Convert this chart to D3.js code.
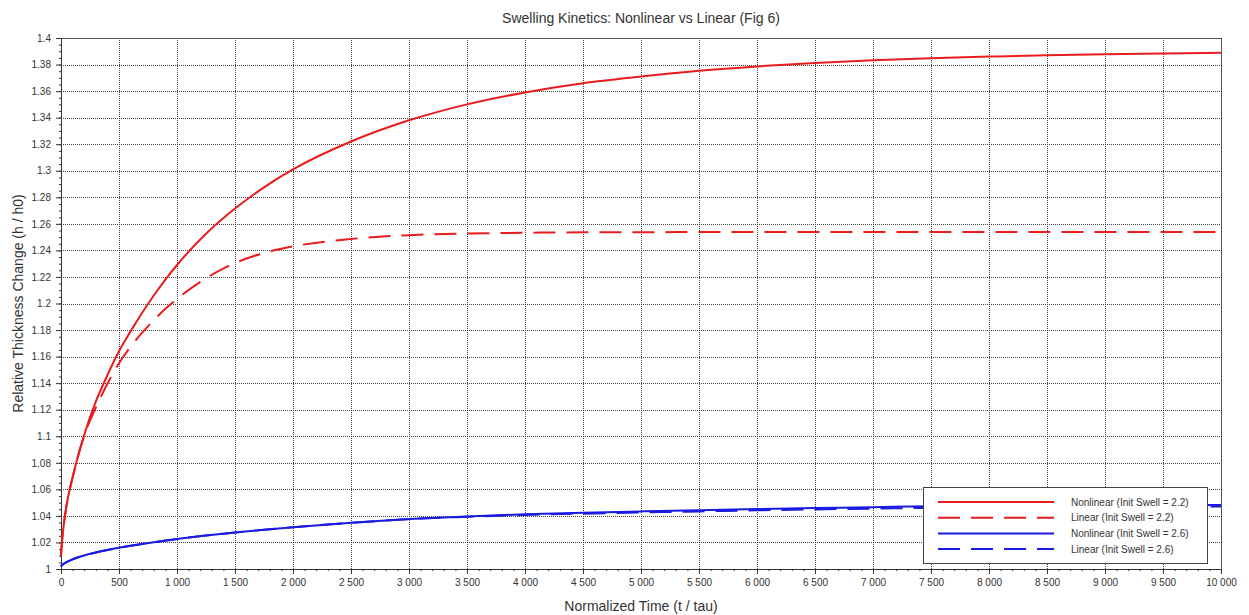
<!DOCTYPE html>
<html>
<head>
<meta charset="utf-8">
<script src="https://cdn.jsdelivr.net/npm/d3@7"></script>
<style>
  html, body { margin: 0; padding: 0; background: #fff; }
  svg { display: block; font-family: "Liberation Sans", Arial, sans-serif; }
</style>
</head>
<body>
<div id="chart"></div>
<script>
// time samples (t / tau) shared by all four curves
const times = [0, 10, 25, 50, 100, 150, 200, 300, 400, 500, 600, 700, 800, 900, 1000,
  1250, 1500, 1750, 2000, 2500, 3000, 3500, 4000, 4500, 5000, 5500, 6000, 6500,
  7000, 7500, 8000, 8500, 9000, 9500, 10000];

const nonlinear22 = [1.010, 1.022, 1.034, 1.049, 1.069, 1.086, 1.101, 1.126, 1.146, 1.164, 1.179, 1.193, 1.206, 1.218, 1.229,
  1.2525, 1.2715, 1.2875, 1.301, 1.322, 1.338, 1.350, 1.359, 1.366, 1.371, 1.3753, 1.3786, 1.3812,
  1.3832, 1.3848, 1.386, 1.387, 1.3877, 1.3883, 1.3888];

const linear22 = [1.010, 1.022, 1.034, 1.049, 1.069, 1.086, 1.1005, 1.1215, 1.1395, 1.155, 1.1675, 1.178, 1.1875, 1.196, 1.2035,
  1.219, 1.2305, 1.238, 1.243, 1.2486, 1.2515, 1.2527, 1.2533, 1.2536, 1.2537, 1.2538, 1.2538, 1.2538,
  1.2538, 1.2538, 1.2538, 1.2538, 1.2538, 1.2538, 1.2538];

const nonlinear26 = [1.0018, 1.003, 1.004, 1.0053, 1.0073, 1.0089, 1.0102, 1.0124, 1.0143, 1.016, 1.0175, 1.0189, 1.0202, 1.0214, 1.0226,
  1.0252, 1.0275, 1.0296, 1.0315, 1.0348, 1.0376, 1.0396, 1.0412, 1.0424, 1.0434, 1.0443, 1.0452, 1.0459,
  1.0466, 1.0472, 1.0476, 1.0479, 1.0481, 1.0482, 1.0483];

const linear26 = [1.0018, 1.003, 1.004, 1.0053, 1.0073, 1.0089, 1.0102, 1.0124, 1.0143, 1.016, 1.0175, 1.0189, 1.0202, 1.0214, 1.0226,
  1.0252, 1.0275, 1.0296, 1.0315, 1.0348, 1.0376, 1.0393, 1.0407, 1.0417, 1.0426, 1.0434, 1.0442, 1.0449,
  1.0455, 1.046, 1.0464, 1.0467, 1.0469, 1.047, 1.0471];

const seriesNames = ['Nonlinear (Init Swell = 2.2)', 'Linear (Init Swell = 2.2)',
  'Nonlinear (Init Swell = 2.6)', 'Linear (Init Swell = 2.6)'];

const xTicks = [0, 500, 1000, 1500, 2000, 2500, 3000, 3500, 4000, 4500, 5000,
  5500, 6000, 6500, 7000, 7500, 8000, 8500, 9000, 9500, 10000];
const yTicks = [1, 1.02, 1.04, 1.06, 1.08, 1.1, 1.12, 1.14, 1.16, 1.18, 1.2,
  1.22, 1.24, 1.26, 1.28, 1.3, 1.32, 1.34, 1.36, 1.38, 1.4];

const RED = '#e81c1c', BLUE = '#1a1ae0';
const series = [
  { name: seriesNames[0], values: nonlinear22, color: RED, dash: null },
  { name: seriesNames[1], values: linear22, color: RED, dash: '22,11' },
  { name: seriesNames[2], values: nonlinear26, color: BLUE, dash: null },
  { name: seriesNames[3], values: linear26, color: BLUE, dash: '22,11' },
];

const W = 1249, H = 615;
const m = { top: 38, right: 28, bottom: 46, left: 61 };

const svg = d3.select('#chart').append('svg').attr('width', W).attr('height', H);

const x = d3.scaleLinear().domain([0, 10000]).range([m.left, W - m.right]);
const y = d3.scaleLinear().domain([1, 1.4]).range([H - m.bottom, m.top]);

const loc = d3.formatLocale({ decimal: '.', thousands: ' ', grouping: [3], currency: ['', ''] });
const fx = loc.format(',d');
const fy = (d) => String(+d.toFixed(2));

// grid
const grid = svg.append('g').attr('stroke', '#444').attr('stroke-width', 1).attr('stroke-dasharray', '1,1');
grid.selectAll('.gx').data(xTicks).join('line')
  .attr('x1', (d) => Math.round(x(d)) + 0.5).attr('x2', (d) => Math.round(x(d)) + 0.5)
  .attr('y1', m.top).attr('y2', H - m.bottom);
grid.selectAll('.gy').data(yTicks).join('line')
  .attr('y1', (d) => Math.round(y(d)) + 0.5).attr('y2', (d) => Math.round(y(d)) + 0.5)
  .attr('x1', m.left).attr('x2', W - m.right);

// frame
svg.append('rect').attr('x', m.left + 0.5).attr('y', m.top + 0.5)
  .attr('width', W - m.right - m.left).attr('height', H - m.bottom - m.top)
  .attr('fill', 'none').attr('stroke', '#555');

// axes
const xMinor = d3.range(0, 10001, 100);
const yMinor = d3.range(0, 81).map((i) => 1 + i * 0.005);

const xAxis = svg.append('g').attr('transform', `translate(0,${H - m.bottom})`)
  .call(d3.axisBottom(x).tickValues(xTicks).tickFormat(fx).tickSize(5).tickPadding(5));
svg.append('g').attr('transform', `translate(0,${H - m.bottom})`)
  .call(d3.axisBottom(x).tickValues(xMinor).tickFormat('').tickSize(2))
  .call((g) => g.select('.domain').remove());
const yAxis = svg.append('g').attr('transform', `translate(${m.left},0)`)
  .call(d3.axisLeft(y).tickValues(yTicks).tickFormat(fy).tickSize(5).tickPadding(5));
svg.append('g').attr('transform', `translate(${m.left},0)`)
  .call(d3.axisLeft(y).tickValues(yMinor).tickFormat('').tickSize(2))
  .call((g) => g.select('.domain').remove());

svg.selectAll('.tick line, .domain').attr('stroke', '#333');
[xAxis, yAxis].forEach((g) => g.selectAll('text')
  .attr('fill', '#333').attr('font-size', 10).attr('font-family', '"Liberation Sans", Arial, sans-serif'));

// curves
const line = d3.line().x((d) => x(d[0])).y((d) => y(d[1])).curve(d3.curveMonotoneX);
svg.append('g').selectAll('path').data(series).join('path')
  .attr('d', (s) => line(times.map((t, i) => [t, s.values[i]])))
  .attr('fill', 'none').attr('stroke', (s) => s.color).attr('stroke-width', 2)
  .attr('stroke-dasharray', (s) => s.dash);

// legend
const lg = svg.append('g').attr('transform', 'translate(923,487)');
lg.append('rect').attr('x', 0.5).attr('y', 0.5).attr('width', 284).attr('height', 76)
  .attr('fill', '#fff').attr('stroke', '#444');
const row = lg.selectAll('g.row').data(series).join('g')
  .attr('transform', (s, i) => `translate(0,${15 + i * 15.7})`);
row.append('line').attr('x1', 15).attr('x2', 131).attr('y1', 0).attr('y2', 0)
  .attr('stroke', (s) => s.color).attr('stroke-width', 2).attr('stroke-dasharray', (s) => s.dash);
row.append('text').attr('x', 148).attr('y', 0).attr('dy', '0.35em')
  .attr('font-size', 10).attr('fill', '#333').text((s) => s.name);

// titles
svg.append('text').attr('x', (m.left + W - m.right) / 2).attr('y', 23)
  .attr('text-anchor', 'middle').attr('font-size', 14).attr('fill', '#333')
  .text('Swelling Kinetics: Nonlinear vs Linear (Fig 6)');
svg.append('text').attr('x', (m.left + W - m.right) / 2).attr('y', 611)
  .attr('text-anchor', 'middle').attr('font-size', 14).attr('fill', '#333')
  .text('Normalized Time (t / tau)');
svg.append('text').attr('transform', `translate(23,${(m.top + H - m.bottom) / 2}) rotate(-90)`)
  .attr('text-anchor', 'middle').attr('font-size', 14).attr('fill', '#333')
  .text('Relative Thickness Change (h / h0)');
</script>
</body>
</html>
